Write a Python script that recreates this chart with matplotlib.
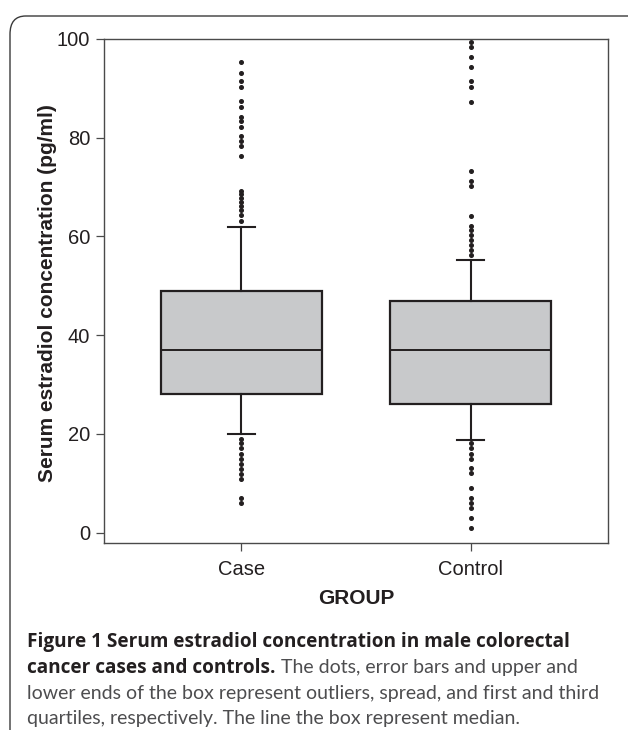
import matplotlib
matplotlib.use("Agg")
from matplotlib import pyplot as plt
import matplotlib.patches as patches

# dados
grupos = ["Case", "Control"]
q1 = [28, 26]
mediana = [37, 37]
q3 = [49, 47]
whis_baixo = [20, 18.8]
whis_alto = [62, 55.2]
outliers_case = [95.3, 93.2, 91.4, 90.3, 87.4, 86.3, 84.3, 83.3, 82.2, 80.3, 79.3,
                 78.3, 76.3, 69.3, 68.6, 67.8, 67.0, 66.2, 65.3, 64.3, 63.2,
                 19.0, 18.1, 17.1, 16.0, 15.0, 14.0, 12.9, 11.9, 10.9, 7.1, 6.0]
outliers_control = [99.3, 98.3, 96.3, 94.3, 91.4, 90.2, 87.3, 73.3, 71.2, 70.2,
                    64.1, 62.2, 61.3, 60.3, 59.3, 58.3, 57.2, 56.2,
                    18.1, 17.1, 16.0, 15.0, 13.0, 12.0, 9.0, 7.0, 6.0, 5.0, 2.9, 0.9]
yticks = [0, 20, 40, 60, 80, 100]

escuro = "#231f20"
fonte = ["Liberation Sans", "DejaVu Sans"]
fonte_leg = ["Lato", "DejaVu Sans"]
fonte_leg_b = ["Open Sans", "DejaVu Sans"]

fig = plt.figure(figsize=(6.28, 7.30), dpi=100)

# moldura arredondada
fig.patches.append(patches.FancyBboxPatch((10 / 628, -0.05), 640 / 628, 1.05 - 16 / 730,
                   boxstyle="round,pad=0,rounding_size=0.025", transform=fig.transFigure,
                   fill=False, edgecolor="#3a3a3a", linewidth=1.0))

ax = fig.add_axes([104 / 628, 1 - 543 / 730, 504 / 628, 504 / 730])

stats = []
fliers = [outliers_case, outliers_control]
for i in range(len(grupos)):
    stats.append({"label": grupos[i], "q1": q1[i], "med": mediana[i], "q3": q3[i],
                  "whislo": whis_baixo[i], "whishi": whis_alto[i], "fliers": fliers[i]})

ax.bxp(stats, positions=[1, 2], widths=0.70, capwidths=0.12, patch_artist=True,
       boxprops=dict(facecolor="#c8c9cb", edgecolor=escuro, linewidth=1.6),
       medianprops=dict(color=escuro, linewidth=1.4),
       whiskerprops=dict(color=escuro, linewidth=1.5),
       capprops=dict(color=escuro, linewidth=1.5),
       flierprops=dict(marker="o", markersize=2.6, markerfacecolor=escuro,
                       markeredgecolor=escuro, linestyle="none"))

ax.set_xlim(0.4, 2.6)
ax.set_ylim(-2.1, 100)
ax.set_yticks(yticks)
ax.set_xticks([1, 2])
ax.set_xticklabels(grupos)
for s in ax.spines.values():
    s.set_color("#4a4a4a")
    s.set_linewidth(1.0)
ax.tick_params(direction="out", length=6, width=0.9, color="#4a4a4a", pad=4,
               labelsize=14.5, labelcolor=escuro)
ax.tick_params(axis="x", pad=6)
for lab in ax.get_xticklabels() + ax.get_yticklabels():
    lab.set_family(fonte)

fig.text(48 / 628, 1 - 293 / 730, "Serum estradiol concentration (pg/ml)", rotation=90,
         ha="center", va="center", fontsize=15, fontweight="bold", color=escuro, family=fonte)
fig.text(356 / 628, 1 - 598 / 730, "GROUP", ha="center", va="center",
         fontsize=15, fontweight="bold", color=escuro, family=fonte)

# legenda da figura
x0 = 27 / 628
linhas = [
    ("Figure 1 Serum estradiol concentration in male colorectal", ""),
    ("cancer cases and controls.", " The dots, error bars and upper and"),
    ("", "lower ends of the box represent outliers, spread, and first and third"),
    ("", "quartiles, respectively. The line the box represent median."),
]
bases = [647, 673, 699, 724]
fig.canvas.draw()
r = fig.canvas.get_renderer()
for (negrito, normal), b in zip(linhas, bases):
    y = 1 - b / 730
    x = x0
    if negrito:
        t = fig.text(x, y, negrito, ha="left", va="baseline", fontsize=13.7,
                     fontweight="bold", color=escuro, family=fonte_leg_b)
        x = x + t.get_window_extent(r).width / fig.bbox.width
    if normal:
        fig.text(x, y, normal, ha="left", va="baseline", fontsize=14,
                 color="#4d4d4f", family=fonte_leg)

fig.savefig("out.png", dpi=100)
